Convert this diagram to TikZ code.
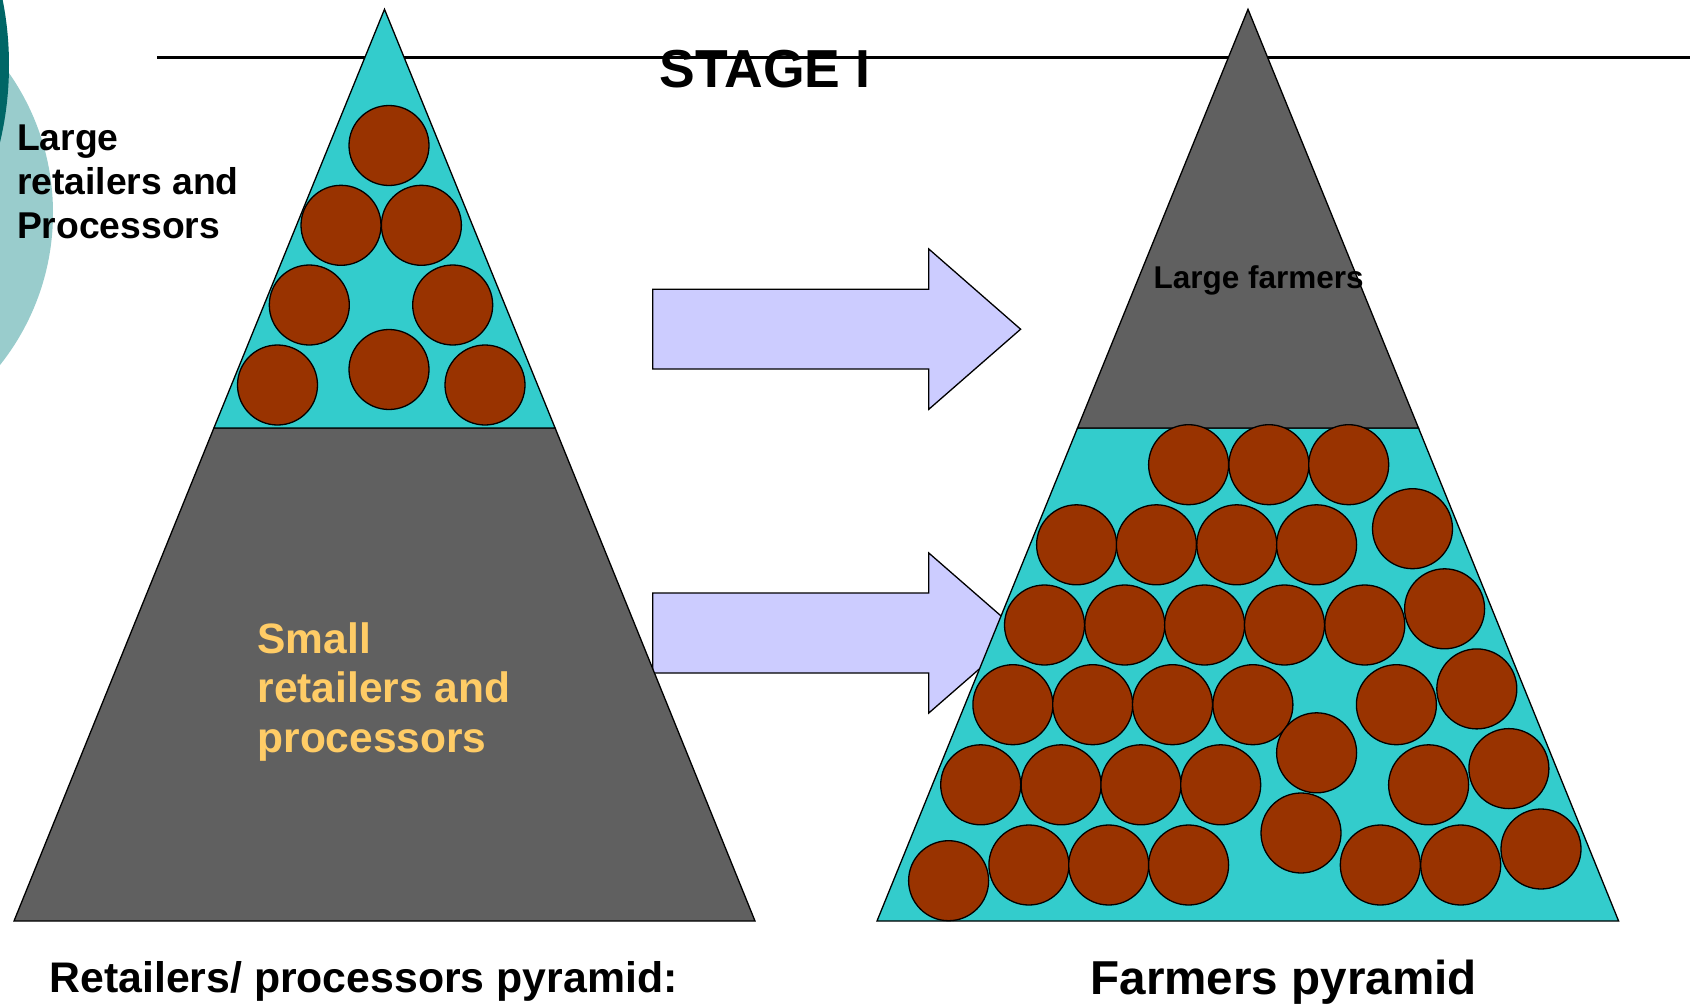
\documentclass[tikz,border=0pt]{standalone}
\usepackage{fontspec}
\setmainfont{Liberation Sans}
\definecolor{pyrgray}{HTML}{606060}
\definecolor{pyrteal}{HTML}{33CCCC}
\definecolor{ballbrown}{HTML}{993300}
\definecolor{arrowlav}{HTML}{CCCCFF}
\definecolor{txtyellow}{HTML}{FFCC66}
\definecolor{decolight}{HTML}{99CCCC}
\definecolor{decodark}{HTML}{006666}
\tikzset{
  pyr/.style={draw=black, line width=1.3pt, line join=miter},
  ball/.style={draw=black, fill=ballbrown, line width=1.3pt},
  blockarrow/.style={draw=black, fill=arrowlav, line width=1.3pt},
  lbl/.style={inner sep=0pt, outer sep=0pt, anchor=base west, font=\bfseries},
}
\begin{document}
\begin{tikzpicture}[x=1pt,y=-1pt]
\useasboundingbox (0,0) rectangle (1690,1004);
\fill[white] (0,0) rectangle (1690,1004);
% corner decoration
\begin{scope}
\clip (0,0) rectangle (1690,1004);
\fill[decolight] (-191.5,213) circle (244.5pt);
\fill[decodark] (-326,65) circle (335pt);
\end{scope}
% title rule
\draw[line width=2.5pt] (157,57.5) -- (1690,57.5);
% block arrows
\draw[blockarrow] (652.8,289.3) -- (928.8,289.3) -- (928.8,249) -- (1020.6,329.2) -- (928.8,409.3) -- (928.8,369) -- (652.8,369) -- cycle;
\draw[blockarrow] (652.8,593) -- (928.8,593) -- (928.8,553) -- (1020.6,633) -- (928.8,713) -- (928.8,673) -- (652.8,673) -- cycle;
% left pyramid
\draw[pyr, fill=pyrgray] (213.9,428) -- (555.1,428) -- (755,921) -- (14,921) -- cycle;
\draw[pyr, fill=pyrteal] (384.5,9.3) -- (213.9,428) -- (555.1,428) -- cycle;
% right pyramid
\draw[pyr, fill=pyrteal] (1077.5,428) -- (1418.5,428) -- (1618.6,921) -- (877,921) -- cycle;
\draw[pyr, fill=pyrgray] (1248,9.3) -- (1077.5,428) -- (1418.5,428) -- cycle;
% left balls
\foreach \bx/\by in {389/145.5, 341/225.3, 421.4/225.3, 309.3/305, 452.7/305, 277.5/385, 389/369.5, 485/385}
  \filldraw[ball] (\bx,\by) circle (40pt);
% right balls
\foreach \bx/\by in {
  1188.6/464.7, 1268.9/464.7, 1348.7/464.7,
  1076.6/544.8, 1156.4/544.8, 1236.8/544.8, 1316.6/544.8, 1412.5/528.7,
  1044.5/625, 1124.8/625, 1204.6/625, 1284.5/625, 1364.8/625, 1444.6/608.8,
  1012.9/704.7, 1092.7/704.7, 1172.5/704.7, 1252.9/704.7, 1396.4/704.7, 1476.8/688.9,
  1316.6/752.8,
  980.7/784.8, 1061.1/784.8, 1140.9/784.8, 1220.7/784.8, 1428.6/784.8, 1508.9/768.6,
  1301/833,
  948.6/880.7, 1028.9/865, 1108.7/865, 1188.6/865, 1380.3/865, 1460.7/865, 1541/849}
  \filldraw[ball] (\bx,\by) circle (40pt);
% texts
\node[lbl, anchor=base] (stage) at (765,87) {\fontsize{53.5}{60}\selectfont STAGE I};
\node[lbl] (largeret) at (17,150.7) {\parbox[t]{300pt}{\fontsize{37.3}{44}\selectfont\bfseries\raggedright Large\\retailers and\\Processors}};
\node[lbl, text=txtyellow] (smallret) at (257.5,653.3) {\parbox[t]{320pt}{\fontsize{42.5}{49.5}\selectfont\bfseries\raggedright Small\\retailers and\\processors}};
\node[lbl] (largefarm) at (1153.5,288.3) {\fontsize{31.5}{36}\selectfont Large farmers};
\node[lbl] (retpyr) at (49.5,992) {\fontsize{42.8}{48}\selectfont Retailers/ processors pyramid:};
\node[lbl] (farmpyr) at (1090.5,994) {\fontsize{47.6}{54}\selectfont Farmers pyramid};
\end{tikzpicture}
\end{document}
